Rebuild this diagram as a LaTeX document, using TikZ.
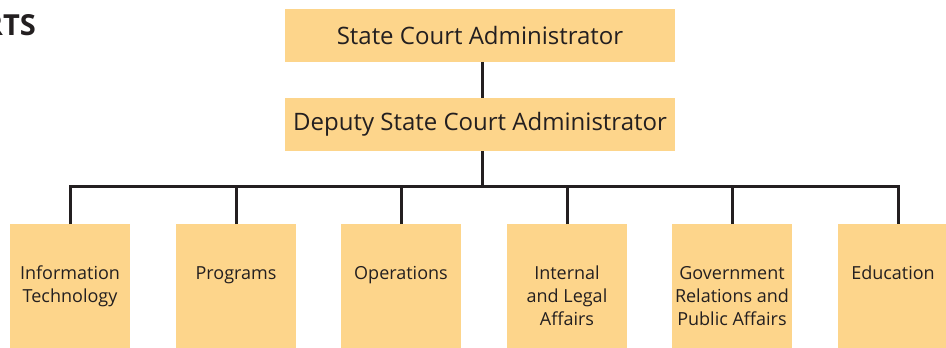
\documentclass[tikz,border=0pt]{standalone}
\usepackage{fontspec}
\setmainfont{Open Sans}
\definecolor{boxfill}{HTML}{FDD58B}
\definecolor{linec}{HTML}{231F20}
\begin{document}
\begin{tikzpicture}[x=1pt,y=-1pt,
  topbox/.style={fill=boxfill,draw=none,minimum width=390pt,minimum height=53pt,inner sep=0pt,font=\fontsize{24}{28}\selectfont,text=linec},
  unitbox/.style={fill=boxfill,draw=none,minimum width=120pt,minimum height=140pt,inner sep=0pt,anchor=north},
  unitlabel/.style={anchor=base,align=center,inner sep=0pt,font=\fontsize{18}{23}\selectfont,text=linec},
  conn/.style={draw=linec,line width=3pt}]
\useasboundingbox (0,0) rectangle (946,348);
\node[anchor=base east,inner sep=0pt,font=\fontsize{29}{32}\bfseries\selectfont,text=linec] (title) at (36,35) {RTS};
\node[topbox] (sca) at (480,35.5) {State Court Administrator};
\node[topbox] (dsca) at (480,124.5) {Deputy State Court Administrator};
\coordinate (bus) at (482,186);
\node[unitbox] (b1) at (70,224) {};
\node[unitbox] (b2) at (236,224) {};
\node[unitbox] (b3) at (401,224) {};
\node[unitbox] (b4) at (567,224) {};
\node[unitbox] (b5) at (732,224) {};
\node[unitbox] (b6) at (898,224) {};
\node[unitlabel] (l1) at (70,302) {Information\\Technology};
\node[unitlabel] (l2) at (236,279) {Programs};
\node[unitlabel] (l3) at (401,279) {Operations};
\node[unitlabel] (l4) at (567,325) {Internal\\and Legal\\Affairs};
\node[unitlabel] (l5) at (732,325) {Government\\Relations and\\Public Affairs};
\node[unitlabel] (l6) at (893,279) {Education};
\draw[conn] (sca.south -| bus) -- (dsca.north -| bus);
\draw[conn] (dsca.south -| bus) -- (bus);
\draw[conn] (b1.north) -- (b1.north |- bus) -- (b6.north |- bus) -- (b6.north);
\foreach \i in {2,3,4,5} \draw[conn] (b\i.north) -- (b\i.north |- bus);
\end{tikzpicture}
\end{document}
